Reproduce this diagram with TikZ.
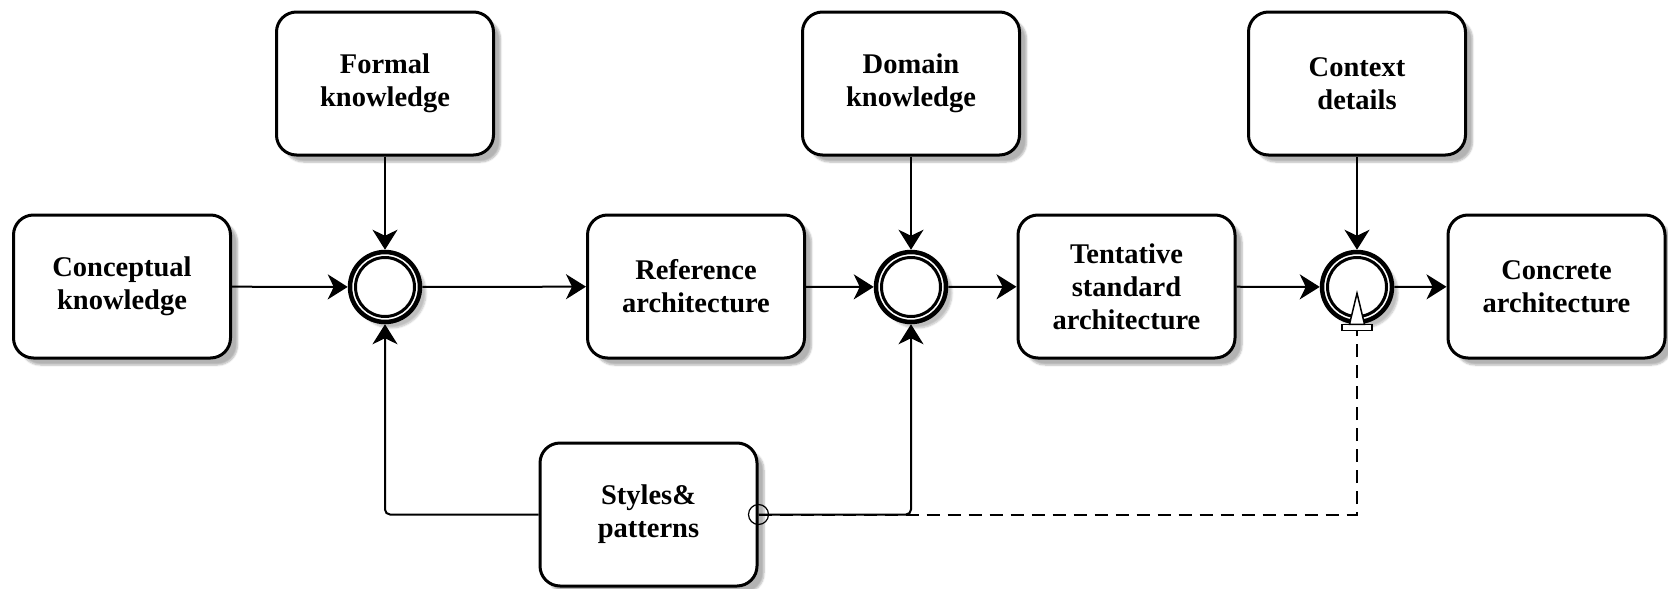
\documentclass[tikz,border=0pt]{standalone}
\usepackage{fontspec}
\setmainfont{Liberation Serif}
\usetikzlibrary{arrows.meta,shadows.blur,calc}
\begin{document}
\begin{tikzpicture}[x=1pt,y=-1pt,
  box/.style={draw, line width=3pt, rounded corners=20pt, minimum width=217pt, minimum height=143pt,
    fill=white, align=center, font=\fontsize{28.5}{33}\selectfont\bfseries, inner sep=0pt,
    blur shadow={shadow xshift=7pt, shadow yshift=-7pt, shadow blur steps=6, shadow opacity=30}},
  gate/.style={circle, draw, line width=4.5pt, minimum size=70pt, fill=white, inner sep=0pt,
    blur shadow={shadow xshift=6pt, shadow yshift=-6pt, shadow blur steps=6, shadow opacity=25}},
  conn/.style={line width=2pt, rounded corners=5pt, -{Stealth[length=20pt,width=25pt,inset=6pt]}},
  assoc/.style={line width=2pt, dash pattern=on 13pt off 8pt},
  srcmark/.style={circle, draw, line width=1.2pt, minimum size=20pt, inner sep=0pt}
]
\useasboundingbox (0,0) rectangle (1668,589);

\node[box] (ck) at (122,286.5) {Conceptual\\knowledge};
\node[box] (fk) at (385,83.5) {Formal\\knowledge};
\node[box] (ra) at (696,286.5) {Reference\\architecture};
\node[box] (dk) at (911,83.5) {Domain\\knowledge};
\node[box] (ts) at (1126.5,286.5) {Tentative\\standard\\architecture};
\node[box] (cd) at (1357,83.5) {Context\\details};
\node[box] (ca) at (1556.5,286.5) {Concrete\\architecture};
\node[box] (sp) at (648.5,514.5) {Styles\&\\patterns};

\node[gate] (g1) at (385,287) {};
\node[gate] (g2) at (911,287) {};
\node[gate] (g3) at (1357,287) {};
\foreach \g in {g1,g2,g3} \draw[line width=3pt] (\g) circle (29.5pt);

\node[srcmark] (sm) at (sp.east) {};

% dashed association to third gate
\draw[assoc] (sm.center) -| (g3.south);
\draw[line width=1.5pt, fill=white] ($(g3.south)+(-15,0)$) rectangle ($(g3.south)+(15,6)$);
\draw[line width=1.5pt, fill=white, line join=miter] ($(g3.south)+(-7.5,0)$) -- ($(g3.south)+(0,-31)$) -- ($(g3.south)+(7.5,0)$) -- cycle;

% flows
\draw[conn] (ck) -- (g1);
\draw[conn] (fk) -- (g1);
\draw[conn] (g1) -- (ra);
\draw[conn] (ra) -- (g2);
\draw[conn] (dk) -- (g2);
\draw[conn] (g2) -- (ts);
\draw[conn] (ts) -- (g3);
\draw[conn] (cd) -- (g3);
\draw[conn] (g3) -- (ca);
\draw[conn] (sp.west) -| (g1.south);
\draw[conn] (sp.east) -| (g2.south);
\end{tikzpicture}
\end{document}
